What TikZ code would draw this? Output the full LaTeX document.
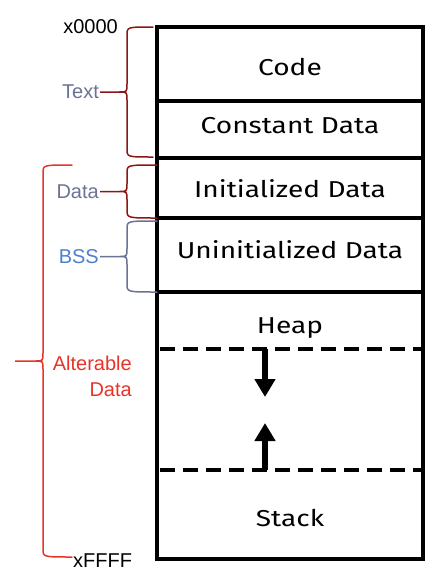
\documentclass[tikz,border=0pt]{standalone}
\usepackage{fontspec}
\setmainfont{Fira Sans}
\newfontfamily\segfont[FakeStretch=1.22]{Fira Sans}
\newfontfamily\labelfont{Liberation Sans}
\usetikzlibrary{arrows.meta}

\definecolor{segred}{RGB}{140,22,22}
\definecolor{seggray}{RGB}{108,114,148}
\definecolor{bssblue}{RGB}{78,128,204}
\definecolor{altred}{RGB}{232,52,40}

\tikzset{
  seg/.style={font=\segfont\fontsize{23}{27}\selectfont, anchor=base, inner sep=0pt},
  lbl/.style={font=\labelfont\fontsize{20}{26}\selectfont, inner sep=0pt},
  bracestyle/.style={line width=1.5pt, line cap=round},
  growarrow/.style={line width=6pt, -{Triangle[width=20pt,length=18pt]}},
}

% color, end x, body x, tip x, top y, bottom y, tip name
\newcommand{\segbrace}[7]{%
  \draw[bracestyle, #1] (#2,#5) .. controls (#3,#5) .. (#3,{#5+8})
    -- (#3,{(#5+#6)/2-8}) .. controls (#3,{(#5+#6)/2}) .. ({#3-8},{(#5+#6)/2})
    -- (#4,{(#5+#6)/2}) -- ({#3-8},{(#5+#6)/2})
    .. controls (#3,{(#5+#6)/2}) .. (#3,{(#5+#6)/2+8})
    -- (#3,{#6-8}) .. controls (#3,#6) .. (#2,#6);
  \coordinate (#7) at (#4,{(#5+#6)/2});
}

\begin{document}
\begin{tikzpicture}[x=1pt, y=-1pt]
        \useasboundingbox (0,0) rectangle (442,584);

        % memory segments
        \draw[line width=4pt] (157,27) rectangle (423,559);
        \draw[line width=4pt] (157,101) -- (423,101);
        \draw[line width=4pt] (157,158) -- (423,158);
        \draw[line width=4pt] (157,218) -- (423,218);
        \draw[line width=4pt] (157,292) -- (423,292);
        \draw[line width=4pt, dash pattern=on 15pt off 8pt] (160,349) -- (421,349);
        \draw[line width=4pt, dash pattern=on 15pt off 8pt] (160,470) -- (421,470);

        \node[seg] (code) at (290,75) {Code};
        \node[seg] (const) at (290,133) {Constant Data};
        \node[seg] (init) at (290,197) {Initialized Data};
        \node[seg] (uninit) at (290,258) {Uninitialized Data};
        \node[seg] (heap) at (290,333) {Heap};
        \node[seg] (stack) at (290,526) {Stack};

        \draw[growarrow] (265,349) -- (265,397);
        \draw[growarrow] (265,470) -- (265,423);

        % braces
        \segbrace{segred}{153}{127}{100}{27}{157}{texttip}
        \segbrace{segred}{157}{127}{100}{165}{218}{datatip}
        \segbrace{seggray}{157}{127}{100}{221}{292}{bsstip}
        \segbrace{altred}{72}{43}{15}{165}{557}{alttip}

        \node[lbl, text=seggray, anchor=east] (textlbl) at ([xshift=-1pt]texttip) {Text};
        \node[lbl, text=seggray, anchor=east] (datalbl) at ([xshift=-1pt]datatip) {Data};
        \node[lbl, text=bssblue, anchor=east] (bsslbl) at ([xshift=-1pt]bsstip) {BSS};
        \node[lbl, text=altred, anchor=east, align=right] (altlbl) at (132,376) {Alterable\\Data};

        \node[lbl, anchor=base east] (start) at (118,33) {x0000};
        \node[lbl, anchor=base west] (end) at (73,567) {xFFFF};
\end{tikzpicture}
\end{document}
